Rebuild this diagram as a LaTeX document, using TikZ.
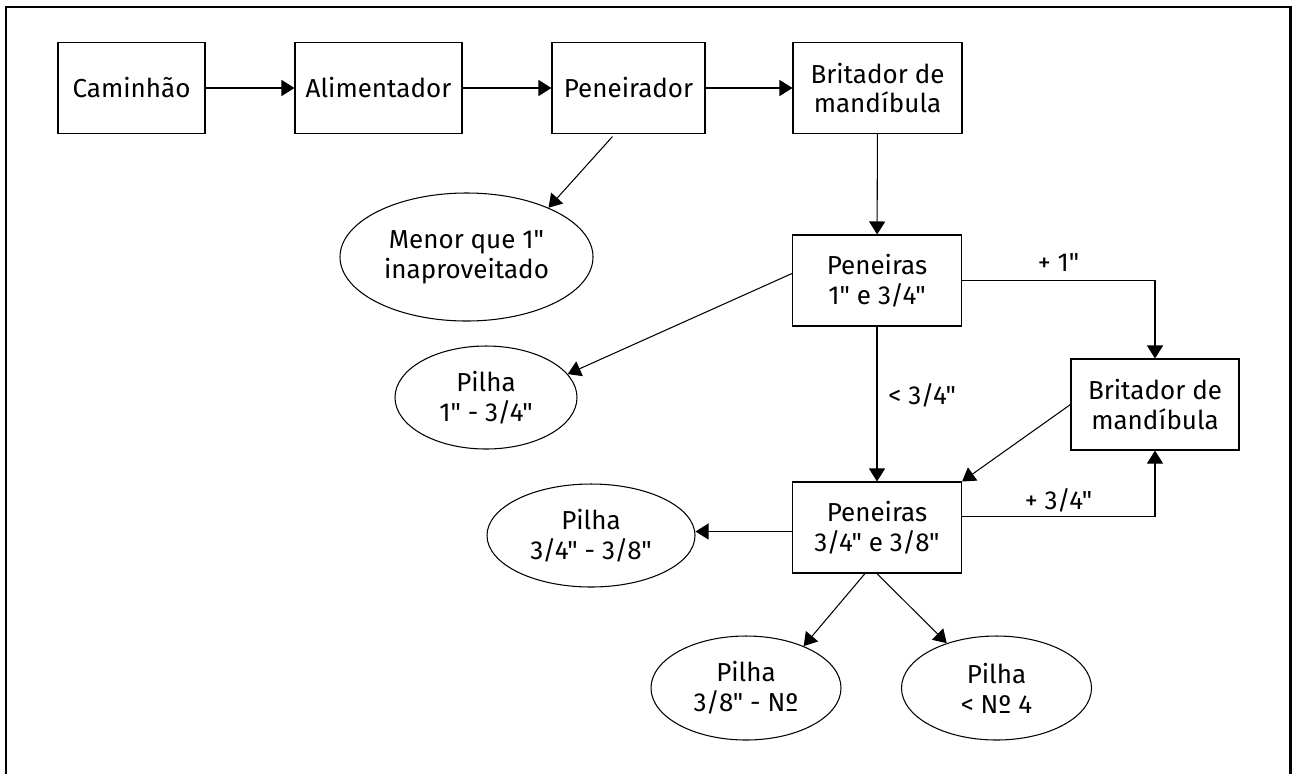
\documentclass[tikz,border=0pt]{standalone}
\usepackage{fontspec}
\setmainfont{Fira Sans}[Ligatures=TeXOff]
\usetikzlibrary{shapes.geometric,arrows.meta}

\begin{document}
\begin{tikzpicture}[
  font=\fontsize{14.8}{17}\selectfont,
  etapa/.style={draw,line width=.6pt,minimum height=1.82cm,align=center,inner sep=0pt},
  pilha/.style={draw,ellipse,line width=.6pt,align=center,inner sep=0pt},
  seta/.style={line width=.6pt,-{Triangle[length=2.6mm,width=3.2mm]}}
]
  \useasboundingbox (0,0) rectangle (25.84,-15.46);
  \draw[line width=1.5pt] (.12,-15.6) |- (25.81,-.14) -- (25.81,-15.6);

  \node[etapa,minimum width=2.94cm] (cam) at (2.63,-1.76) {Caminhão};
  \node[etapa,minimum width=3.34cm] (ali) at (7.57,-1.76) {Alimentador};
  \node[etapa,minimum width=3.06cm] (pen) at (12.57,-1.76) {Peneirador};
  \node[etapa,minimum width=3.38cm] (brit) at (17.55,-1.76) {Britador de\\mandíbula};
  \node[pilha,minimum width=5.06cm,minimum height=2.56cm] (menor) at (9.33,-5.14) {Menor que 1"\\inaproveitado};
  \node[etapa,minimum width=3.38cm] (pen1) at (17.54,-5.61) {Peneiras\\1" e 3/4"};
  \node[pilha,minimum width=3.64cm,minimum height=2.06cm] (pil1) at (9.72,-7.95) {Pilha\\1" - 3/4"};
  \node[etapa,minimum width=3.36cm] (brit2) at (23.1,-8.09) {Britador de\\mandíbula};
  \node[etapa,minimum width=3.38cm] (pen2) at (17.54,-10.55) {Peneiras\\3/4" e 3/8"};
  \node[pilha,minimum width=4.16cm,minimum height=2.06cm] (pil2) at (11.82,-10.71) {Pilha\\3/4" - 3/8"};
  \node[pilha,minimum width=3.8cm,minimum height=2.08cm] (pil3) at (14.92,-13.76) {Pilha\\3/8" - Nº};
  \node[pilha,minimum width=3.8cm,minimum height=2.08cm] (pil4) at (19.93,-13.76) {Pilha\\< Nº 4};

  \draw[seta] (cam) -- (ali);
  \draw[seta] (ali) -- (pen);
  \draw[seta] (pen) -- (brit);
  \draw[seta] ([xshift=-3.2mm,yshift=-.5mm]pen.south) -- (menor.31);
  \draw[seta] (brit) -- (pen1);
  \draw[seta] ([yshift=1.4mm]pen1.west) -- (pil1.16);
  \draw[seta] (pen1.east) -| (brit2.north) node[pos=.25,above=.6mm] {+ 1"};
  \draw[seta] (pen1) -- (pen2) node[midway,right=1mm,yshift=1.7mm] {< 3/4"};
  \draw[seta] (brit2.west) -- (pen2.north east);
  \draw[seta] ([yshift=2.2mm]pen2.east) -| (brit2.south) node[pos=.25,above=-.4mm] {+ 3/4"};
  \draw[seta] ([yshift=-.8mm]pen2.west) -- ([yshift=-.8mm]pen2.west -| pil2.east);
  \draw[seta] ([xshift=-2.4mm]pen2.south) -- (pil3.36);
  \draw[seta] (pen2.south) -- (pil4.138);
\end{tikzpicture}
\end{document}
